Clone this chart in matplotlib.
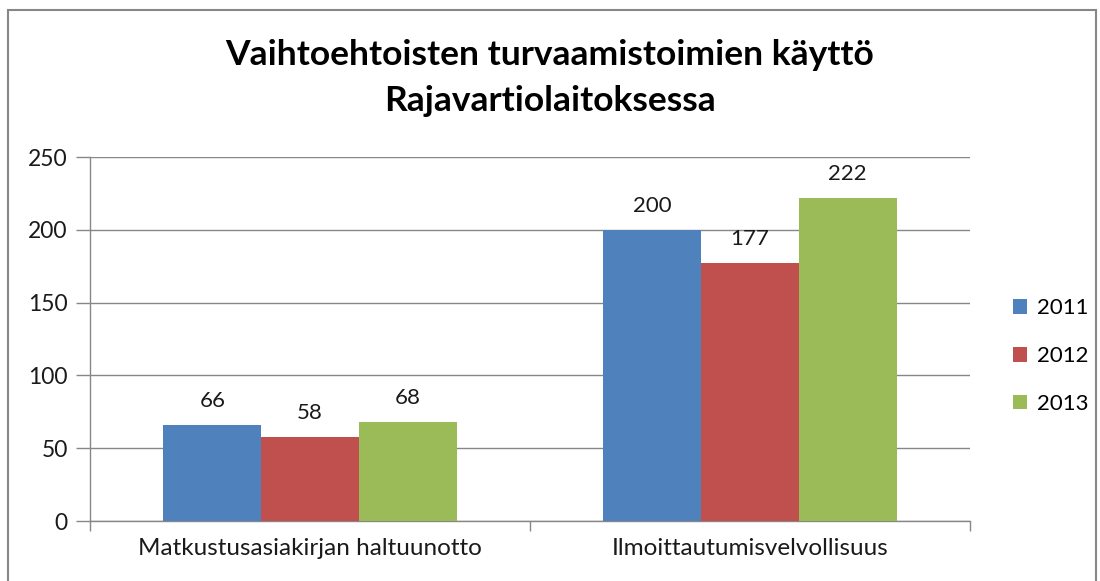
"""Grouped bar chart: Vaihtoehtoisten turvaamistoimien käyttö Rajavartiolaitoksessa."""

import matplotlib
matplotlib.use("Agg")
import matplotlib.pyplot as plt
from matplotlib.patches import Rectangle
import numpy as np

CATEGORIES = ["Matkustusasiakirjan haltuunotto", "Ilmoittautumisvelvollisuus"]
YEARS = ["2011", "2012", "2013"]
VALUES_2011 = [66, 200]
VALUES_2012 = [58, 177]
VALUES_2013 = [68, 222]
COLORS = ["#4F81BD", "#C0504D", "#9BBB59"]

plt.rcParams["font.family"] = ["Lato", "DejaVu Sans"]
TEXT = "#1a1a1a"
FS = 16

fig = plt.figure(figsize=(11, 5.81), dpi=100)
ax = fig.add_axes([90 / 1100, 1 - 521 / 581, 880 / 1100, 364 / 581])

x = np.arange(len(CATEGORIES))
width = 0.222
series = [VALUES_2011, VALUES_2012, VALUES_2013]
for i, (year, vals, color) in enumerate(zip(YEARS, series, COLORS)):
    pos = x + (i - 1) * width
    bars = ax.bar(pos, vals, width=width, color=color, label=year, zorder=3)
    for rect, v in zip(bars, vals):
        ax.annotate(str(v), (rect.get_x() + rect.get_width() / 2, v),
                    xytext=(0, 10), textcoords="offset points",
                    ha="center", va="bottom", fontsize=FS, color=TEXT)

ax.set_xlim(-0.5, 1.5)
ax.set_ylim(0, 250)
ax.set_yticks(range(0, 251, 50))
ax.yaxis.grid(True, color="#878787", linewidth=1.0, zorder=0)
ax.set_xticks([-0.5, 0.5, 1.5])
ax.set_xticklabels([])
ax.set_xticks(x, minor=True)
ax.set_xticklabels(CATEGORIES, minor=True, fontsize=17.5, color=TEXT)
ax.tick_params(axis="x", which="minor", length=0, pad=12)
ax.tick_params(axis="x", which="major", length=7, color="#878787", width=1)
ax.tick_params(axis="y", length=10, color="#878787", width=1,
               labelsize=FS + 0.5, labelcolor=TEXT, pad=6)
for side in ("top", "right"):
    ax.spines[side].set_visible(False)
for side in ("left", "bottom"):
    ax.spines[side].set_color("#878787")
    ax.spines[side].set_linewidth(1.0)

ax.legend(loc="center left", bbox_to_anchor=(1013 / 1100, 1 - 356 / 581),
          bbox_transform=fig.transFigure, borderpad=0, borderaxespad=0,
          frameon=False, fontsize=FS, handlelength=0.65, handleheight=0.65,
          handletextpad=0.45, labelspacing=1.25)

fig.text(0.5, 1 - 55 / 581, "Vaihtoehtoisten turvaamistoimien käyttö",
         ha="center", va="center", fontsize=25.5, fontweight="bold")
fig.text(0.5, 1 - 101 / 581, "Rajavartiolaitoksessa",
         ha="center", va="center", fontsize=25.5, fontweight="bold")

fig.patches.append(Rectangle((8 / 1100, -0.05), 1088 / 1100, 1.05 - 10 / 581,
                             transform=fig.transFigure, fill=False,
                             edgecolor="#878787", linewidth=1.5))

fig.savefig("out.png", dpi=100)
